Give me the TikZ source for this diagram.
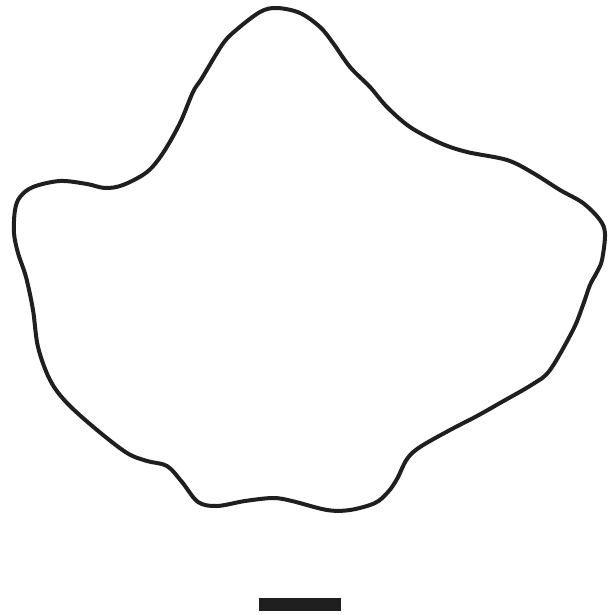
\documentclass[tikz,border=0pt]{standalone}
\begin{document}
\begin{tikzpicture}[x=1pt, y=-1pt, outline/.style={line width=4pt, draw=black!88, line join=round}, scalebar/.style={fill=black!88}]
  \useasboundingbox (0,0) rectangle (613,615);
  % outline of the specimen
  \draw[outline] plot[smooth cycle, tension=0.55] coordinates {
    (277,8) (300,13) (320,27) (333,43) (350,67) (370,87) (387,107) (410,127)
    (440,143) (467,152) (507,160) (533,173) (560,190) (583,203) (600,220)
    (605,234) (602,260) (597,272) (590,285) (583,305) (573,330) (550,370)
    (533,384) (500,403) (477,416) (450,430) (420,447) (407,459) (397,479)
    (388,492) (375,503) (350,510) (327,510) (292,501) (273,498) (245,501)
    (217,506) (198,502) (182,482) (167,466) (147,461) (127,453) (97,430)
    (67,403) (50,380) (38,347) (33,310) (26,277) (18,253) (14,233) (15,210)
    (20,197) (33,187) (60,181) (87,184) (105,188) (123,185) (147,172)
    (163,153) (180,123) (193,92) (202,78) (222,45) (235,31) (260,12)};
  % scale bar
  \fill[scalebar] (259,598) rectangle (341,611);
\end{tikzpicture}
\end{document}
